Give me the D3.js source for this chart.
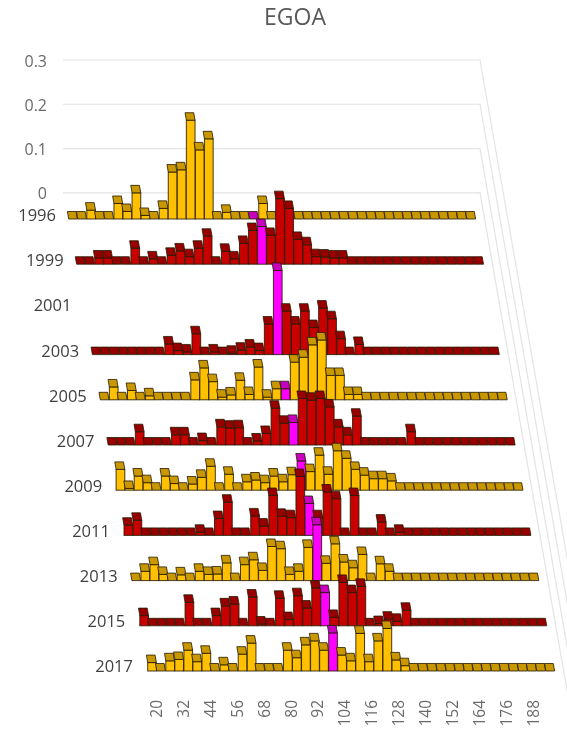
<!DOCTYPE html>
<html>
<head>
<meta charset="utf-8">
<script src="https://d3js.org/d3.v7.min.js"></script>
<style>
html,body{margin:0;padding:0;background:#fff}
svg{display:block;filter:blur(0.35px)}
text{font-family:"Open Sans",sans-serif}
</style>
</head>
<body>
<svg id="chart" width="567" height="730"></svg>
<script>
const title = "EGOA";
const years = ["1996","1999","2001","2003","2005","2007","2009","2011","2013","2015","2017"];
const categories = [20,24,28,32,36,40,44,48,52,56,60,64,68,72,76,80,84,88,92,96,100,104,108,112,116,120,124,128,132,136,140,144,148,152,156,160,164,168,172,176,180,184,188,192,196];
const yTicks = [0,0.1,0.2,0.3];
const v1996 = [0,0,.020,0,0,.035,.017,.059,.008,0,.024,.106,.111,.223,.156,.181,0,.015,0,0,0,.035,0,0,0,0,0,0,0,0,0,0,0,0,0,0,0,0,0,0,0,0,0,0,0];
const v1999 = [0,0,.014,.014,0,0,.036,0,.012,0,.020,.030,.017,.036,.063,0,.029,.012,.047,.076,.085,.065,.148,.126,.056,.044,.017,.016,.014,.014,0,0,0,0,0,0,0,0,0,0,0,0,0,0,0];
const v2001 = [];
const v2003 = [0,0,0,0,0,0,0,0,.024,.009,.006,.047,0,.006,0,.003,.010,.017,.009,.069,.190,.098,.069,.098,.061,.105,.081,.036,0,.023,0,0,0,0,0,0,0,0,0,0,0,0,0,0,0];
const v2005 = [0,.029,0,.021,0,.009,0,0,0,0,.045,.072,.041,.006,.011,.044,.012,.074,.006,.025,.025,.085,.096,.124,.135,.055,.055,.012,.012,0,0,0,0,0,0,0,0,0,0,0,0,0,0,0,0];
const v2007 = [0,0,0,.030,0,0,0,.023,.023,0,.010,0,.041,.038,.039,0,.009,.026,.083,.049,.051,.105,.101,.105,.086,.041,.023,.065,0,0,0,0,0,.030,0,0,0,0,0,0,0,0,0,0,0];
const v2009 = [.047,.004,.032,.017,0,.032,.015,0,.014,.029,.054,0,.036,0,.019,.023,.017,.032,.019,.035,.066,.042,.079,.036,.089,.072,.047,.034,.026,.026,.021,0,0,0,0,0,0,0,0,0,0,0,0,0,0];
const v2011 = [.023,.034,0,0,0,0,0,0,.007,0,.038,.075,0,0,.044,.021,.090,.043,.040,.133,.072,.040,.098,.083,0,.090,0,0,.030,0,.007,0,0,0,0,0,0,0,0,0,0,0,0,0,0];
const v2013 = [0,.021,.036,.014,0,.013,0,.021,.014,.015,.040,0,.036,.047,.023,.077,.072,.014,.021,.075,.126,.039,.083,.042,.029,.059,0,.038,.021,0,0,0,0,0,0,0,0,0,0,0,0,0,0,0,0];
const v2015 = [.023,0,0,0,0,.053,0,0,.023,.045,.049,0,.065,.004,0,.062,.014,.068,.040,.085,.075,.019,.098,.075,.089,0,.005,.015,.010,.035,0,0,0,0,0,0,0,0,0,0,0,0,0,0,0];
const v2017 = [.019,0,.023,.026,.047,.021,.040,0,.014,0,.038,.063,0,0,0,.047,.030,.059,.068,.047,.086,.036,.023,.085,.021,.068,.096,.025,.012,0,0,0,0,0,0,0,0,0,0,0,0,0,0,0,0];
const series = [v1996,v1999,v2001,v2003,v2005,v2007,v2009,v2011,v2013,v2015,v2017];
const highlightCategory = 100;
const seriesTheme = ["gold","red","red","red","gold","red","gold","red","gold","red","gold"];
const themes = {
  gold:{front:"#FFC000",top:"#C99700"},
  red:{front:"#C80000",top:"#960000"},
  hi:{front:"#FF00FF",top:"#C800C0"}
};

const svg = d3.select("#chart");
const band = 9.05, barW = 8.7, depth = 7.5, shear = 0.175;

// row index -> baseline and horizontal offset (oblique floor)
const rowY = d3.scalePoint().domain(years).range([219,671]);
const rowX = d3.scalePoint().domain(years).range([68.7,147.7]);
const labelY = d3.scalePoint().domain(years).range([215.5,666.5]);
const labelX = d3.scalePoint().domain(years).range([56,133]);
const x = d3.scaleBand().domain(categories).range([0,band*categories.length]).paddingInner(0).paddingOuter(0);
const yPx = d3.scaleLinear().domain([0,0.3]).range([0,132.9]);
const wallY = d3.scaleLinear().domain([0,0.3]).range([192.8,60]);
const wallLeft = 63, wallRight = 480;

// gridlines on the back wall and their run down the side wall
const grid = svg.append("g");
grid.selectAll("path").data(yTicks).join("path")
  .attr("fill","none").attr("stroke","#e4e4e4").attr("stroke-width",1.2)
  .attr("d",t=>{
    const y0 = wallY(t), y1 = 740;
    return `M${wallLeft},${y0}L${wallRight},${y0}L${wallRight+(y1-y0)*shear},${y1}`;
  });

// y axis
const yAxis = svg.append("g").attr("transform",`translate(47,1)`)
  .call(d3.axisLeft(wallY).tickValues(yTicks).tickSize(0).tickPadding(0).tickFormat(d=>d===0?"0":String(d)));
yAxis.select(".domain").remove();
yAxis.selectAll("text").attr("fill","#6a6a6a").attr("font-size",16).style("font-family",'"Open Sans",sans-serif');

// rows, back to front
years.forEach((yr,r)=>{
  const data = series[r].map((v,i)=>({v,cat:categories[i]}));
  const g = svg.append("g").attr("transform",`translate(${rowX(yr)},${rowY(yr)})`);
  const bars = g.selectAll("g").data(data).join("g")
    .attr("transform",d=>`translate(${x(d.cat)},0)`);
  const th = d=> d.cat===highlightCategory ? themes.hi : themes[seriesTheme[r]];
  bars.filter(d=>d.v>0).append("rect")
    .attr("x",0).attr("width",barW)
    .attr("y",d=>-yPx(d.v)).attr("height",d=>yPx(d.v))
    .attr("fill",d=>th(d).front)
    .attr("stroke","#241a00").attr("stroke-opacity",.85).attr("stroke-width",1);
  bars.append("path")
    .attr("d",d=>{
      const t = -yPx(d.v);
      return `M0,${t}L${barW},${t}L${barW-depth*shear},${t-depth}L${-depth*shear},${t-depth}Z`;
    })
    .attr("fill",d=>th(d).top)
    .attr("stroke","#241a00").attr("stroke-opacity",.8).attr("stroke-width",1);
});

// row labels
svg.append("g").selectAll("text").data(years).join("text")
  .attr("x",d=>labelX(d)).attr("y",d=>labelY(d))
  .attr("dy","0.35em").attr("text-anchor","end")
  .attr("fill","#404040").attr("font-size",16.5).text(d=>d);

// category axis
const labelled = categories.filter(c=>c>=20 && c<=188 && (c-20)%12===0);
const xAxis = svg.append("g").attr("transform",`translate(${rowX("2017")+4.2},700)`)
  .call(d3.axisBottom(x.copy().range([0,8.98*categories.length]))
    .tickValues(labelled).tickSize(0).tickPadding(0));
xAxis.select(".domain").remove();
xAxis.selectAll("text")
  .attr("transform","rotate(-90)")
  .attr("text-anchor","end").attr("x",0).attr("y",0).attr("dy","0.35em")
  .attr("fill","#6a6a6a").attr("font-size",15.5)
  .style("font-family",'"Open Sans",sans-serif');

// title
svg.append("text").attr("x",295).attr("y",25).attr("text-anchor","middle")
  .attr("fill","#595959").attr("font-size",23).text(title);
</script>
</body>
</html>
